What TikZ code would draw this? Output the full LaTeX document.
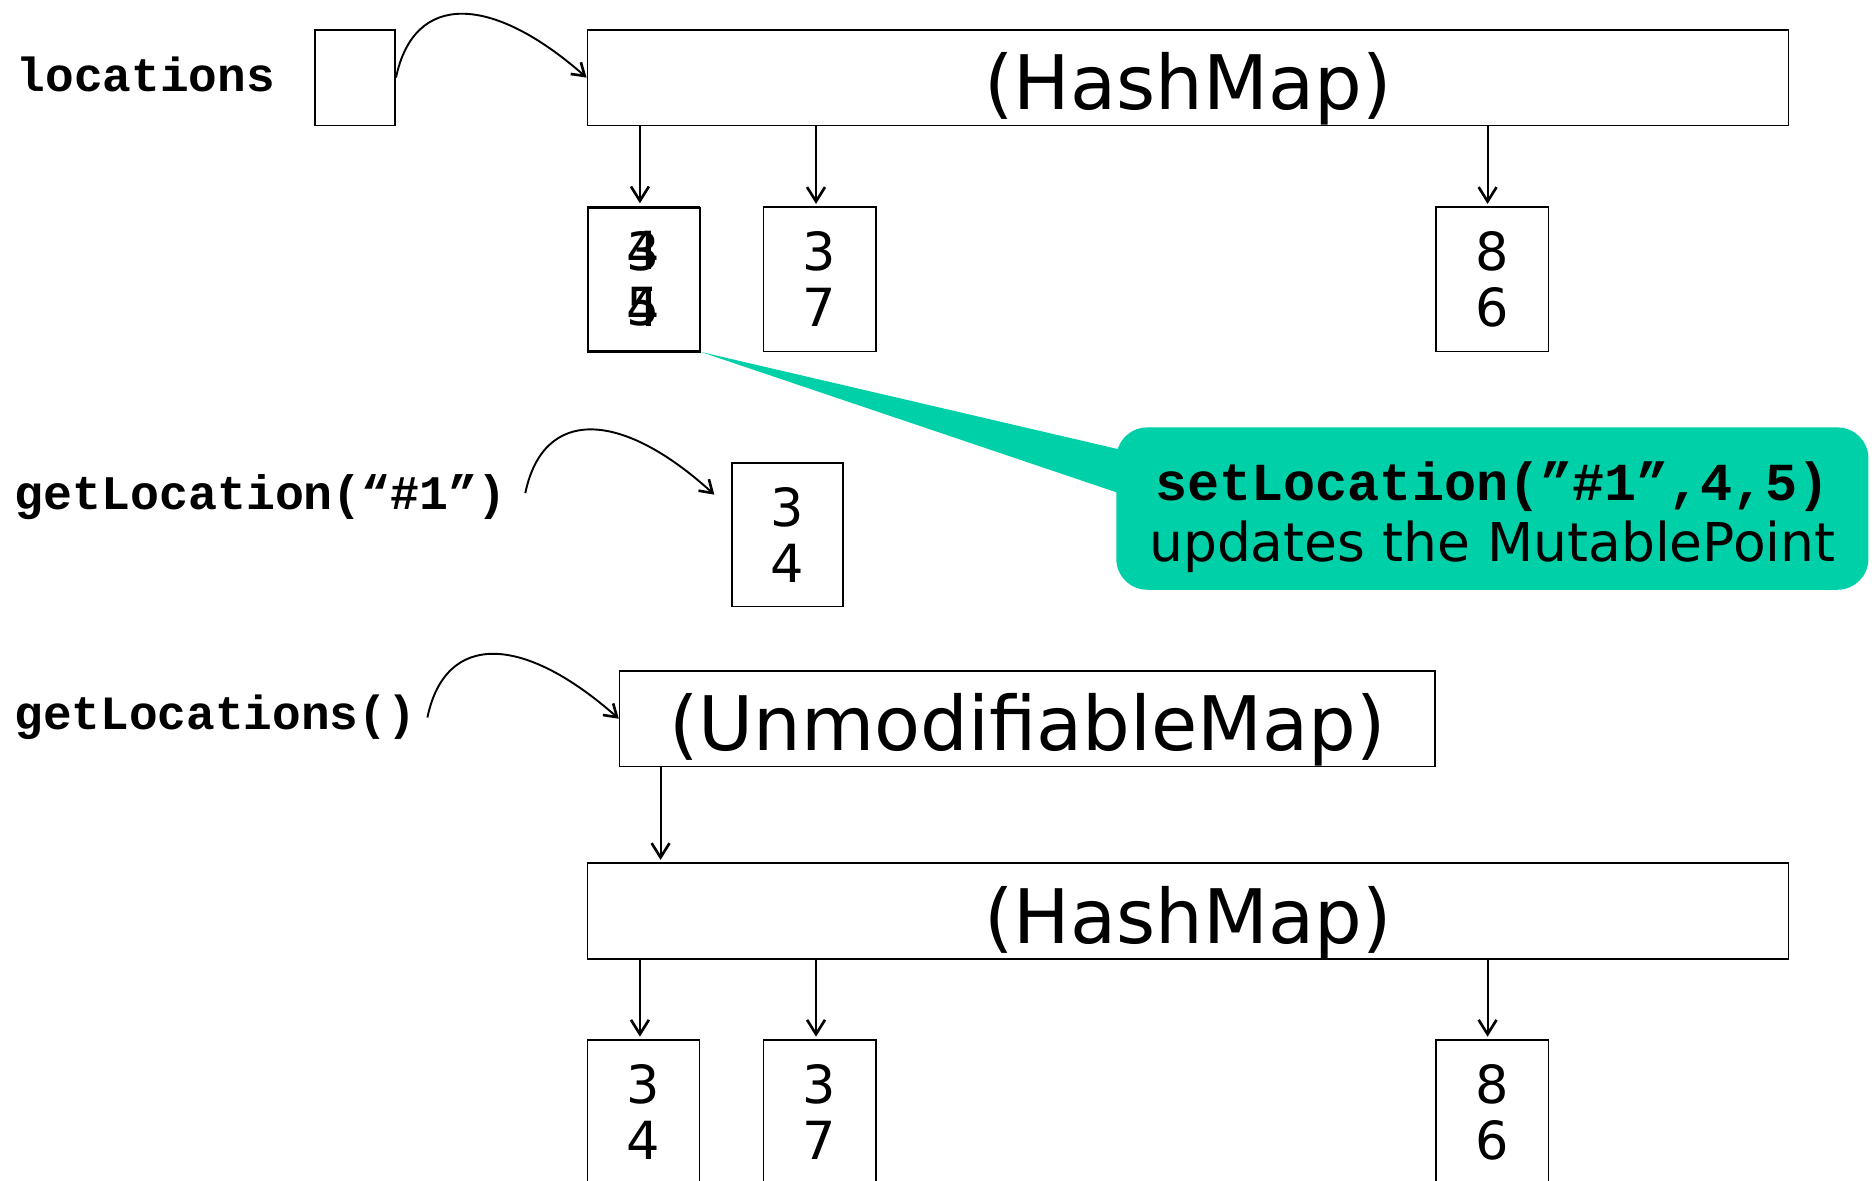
\documentclass[tikz,border=0pt]{standalone}
\usepackage{fontspec}
\setmainfont{DejaVu Sans}
\newfontfamily\codefont{Liberation Mono}
\usetikzlibrary{arrows.meta,calc}
\definecolor{callout}{RGB}{0,208,168}
\begin{document}
\begin{tikzpicture}[x=1pt,y=-1pt,
  box/.style={draw, line width=1.4pt, inner sep=0pt},
  numbox/.style={box, minimum width=94pt, minimum height=121pt, font=\fontsize{44}{47}\selectfont, align=center},
  numtxt/.style={font=\fontsize{44}{47}\selectfont, align=center, inner sep=0pt},
  mapbox/.style={box, minimum height=80pt, font=\fontsize{63}{63}\selectfont, text height=58pt, text depth=4pt},
  arr/.style={-{Straight Barb[length=12pt,width=15pt,line width=2.2pt]}, line width=1.8pt, shorten >=2pt},
  carr/.style={-{Straight Barb[length=10pt,width=13pt,line width=2.2pt]}, line width=1.6pt},
  code/.style={font=\codefont\bfseries\fontsize{40}{40}\selectfont, anchor=west, inner sep=0pt}]
\useasboundingbox (0,0) rectangle (1568,989.2);

% top row
\node[code] (loclab) at (14,62) {locations};
\node[box, minimum width=67pt, minimum height=80pt] (loc) at (297.5,65) {};
\node[mapbox, minimum width=1006pt] (hm1) at (995,65) {(HashMap)};
\draw[carr] (loc.east) .. controls ($(loc.east)+(15,-72)$) and ($(loc.east)+(80,-70)$) .. (hm1.west);

\node[numbox] (b1) at (539,233.5) {3\\4};
\node[numtxt] (b1b) at (b1.center) {4\\5};
\node[box, minimum width=94pt, minimum height=121pt] (b1c) at (539.5,234.5) {};
\node[numbox] (b2) at (686.5,234) {3\\7};
\node[numbox] (b3) at (1250,234) {8\\6};
\draw[arr] ($(b1.north |- hm1.south)+(-3,0)$) -- ($(b1.north)+(-3,0)$);
\draw[arr] ($(b2.north |- hm1.south)+(-3,0)$) -- ($(b2.north)+(-3,0)$);
\draw[arr] ($(b3.north |- hm1.south)+(-4,0)$) -- ($(b3.north)+(-4,0)$);

% callout
\coordinate (cotop) at (940,377);
\coordinate (cobot) at (940,414);
\fill[callout] (b1.south east) -- (cotop) -- (cobot) -- cycle;
\fill[callout, rounded corners=26pt] (935,358) rectangle (1565,494);
\node[align=center, inner sep=0pt, font=\fontsize{44.8}{51}\selectfont] (co) at (1250,433)
  {{\codefont\bfseries setLocation(”\#1”,4,5)}\\updates the MutablePoint};

% getLocation
\node[code, font=\codefont\bfseries\fontsize{40.4}{40.4}\selectfont] (gllab) at (12,416) {getLocation(“\#1”)};
\node[numbox, minimum width=93pt, minimum height=120pt] (glb) at (659.5,448) {3\\4};
\coordinate (gls) at (440,413);
\coordinate (gle) at ($(glb.north west)+(-14,27)$);
\draw[carr] (gls) .. controls ($(gls)+(15,-72)$) and ($(gls)+(80,-70)$) .. (gle);

% getLocations
\node[code] (gslab) at (12,601) {getLocations()};
\node[mapbox, minimum width=683pt] (um) at (860.5,602) {(UnmodifiableMap)};
\coordinate (gss) at (358,601);
\draw[carr] (gss) .. controls ($(gss)+(15,-72)$) and ($(gss)+(80,-70)$) .. (um.west);

\node[mapbox, minimum width=1006pt] (hm2) at (995,763) {(HashMap)};
\draw[arr] ($(um.south west)+(35,0)$) -- ($(hm2.north west)+(62,0)$);

\node[numbox] (b4) at (539,931.5) {3\\4};
\node[numbox] (b5) at (686.5,931.5) {3\\7};
\node[numbox] (b6) at (1250,931.5) {8\\6};
\draw[arr] ($(b4.north |- hm2.south)+(-3,0)$) -- ($(b4.north)+(-3,0)$);
\draw[arr] ($(b5.north |- hm2.south)+(-3,0)$) -- ($(b5.north)+(-3,0)$);
\draw[arr] ($(b6.north |- hm2.south)+(-4,0)$) -- ($(b6.north)+(-4,0)$);
\end{tikzpicture}
\end{document}
